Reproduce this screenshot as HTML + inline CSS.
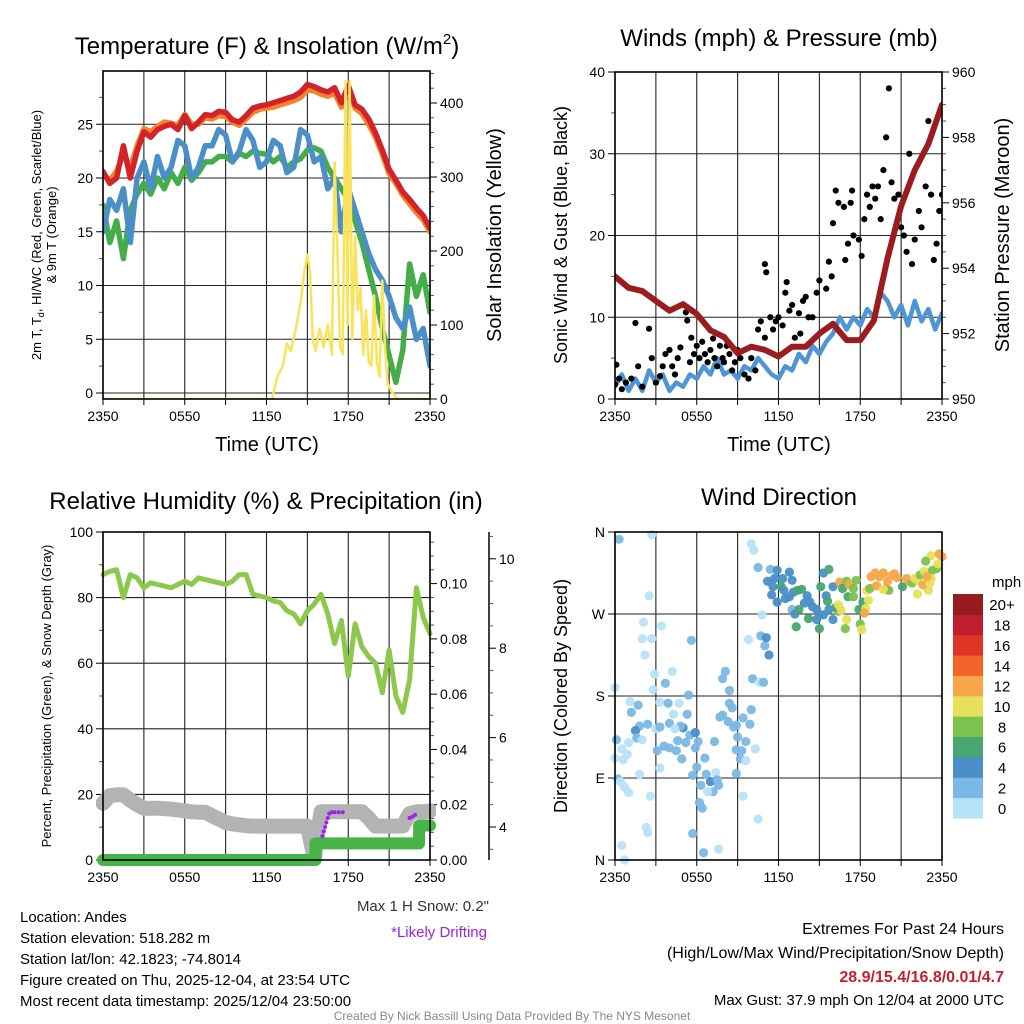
<!DOCTYPE html>
<html><head><meta charset="utf-8">
<style>
html,body{margin:0;padding:0;background:#fff;}
svg{display:block;font-family:"Liberation Sans",Arial,sans-serif;}
.tk{font-size:14px;fill:#000;}
</style></head>
<body>
<svg id="chart" width="1024" height="1024" viewBox="0 0 1024 1024" xmlns="http://www.w3.org/2000/svg">
<defs>
<clipPath id="c1"><rect x="103" y="71" width="327" height="328"/></clipPath>
<clipPath id="c2"><rect x="615" y="72" width="327" height="327"/></clipPath>
<clipPath id="c3"><rect x="96" y="526" width="340" height="340"/></clipPath>
<clipPath id="c4"><rect x="608" y="526" width="341" height="341"/></clipPath>
</defs>
<g id="p1"></g>
<g id="p2"></g>
<g id="p3"></g>
<g id="p4"></g>

<text x="267" y="54" font-size="24" text-anchor="middle">Temperature (F) &amp; Insolation (W/m<tspan font-size="15" dy="-10">2</tspan><tspan dy="10">)</tspan></text>
<text x="779" y="46" font-size="24" text-anchor="middle">Winds (mph) &amp; Pressure (mb)</text>
<text x="266" y="509" font-size="24" text-anchor="middle">Relative Humidity (%) &amp; Precipitation (in)</text>
<text x="779" y="505" font-size="24" text-anchor="middle">Wind Direction</text>

<text x="267" y="458" font-size="20" text-anchor="middle" transform="translate(0,-7)">Time (UTC)</text>
<text x="779" y="458" font-size="20" text-anchor="middle" transform="translate(0,-7)">Time (UTC)</text>

<text transform="translate(41,235) rotate(-90)" font-size="13" text-anchor="middle">2m T, T<tspan font-size="9" dy="3">d</tspan><tspan dy="-3">, HI/WC (Red, Green, Scarlet/Blue)</tspan></text>
<text transform="translate(56,235) rotate(-90)" font-size="13" text-anchor="middle">&amp; 9m T (Orange)</text>
<text transform="translate(501,235) rotate(-90)" font-size="20" text-anchor="middle">Solar Insolation (Yellow)</text>
<text transform="translate(567,235) rotate(-90)" font-size="18" text-anchor="middle">Sonic Wind &amp; Gust (Blue, Black)</text>
<text transform="translate(1009,235) rotate(-90)" font-size="20" text-anchor="middle">Station Pressure (Maroon)</text>
<text transform="translate(51,696) rotate(-90)" font-size="13" text-anchor="middle">Percent, Precipitation (Green), &amp; Snow Depth (Gray)</text>
<text transform="translate(567,696) rotate(-90)" font-size="18" text-anchor="middle">Direction (Colored By Speed)</text>

<text x="489" y="911" font-size="15" text-anchor="end" fill="#333">Max 1 H Snow: 0.2"</text>
<text x="487" y="937" font-size="15" text-anchor="end" fill="#a020f0">*Likely Drifting</text>

<g font-size="15">
<text x="20" y="922">Location: Andes</text>
<text x="20" y="943">Station elevation: 518.282 m</text>
<text x="20" y="964">Station lat/lon: 42.1823; -74.8014</text>
<text x="20" y="985">Figure created on Thu, 2025-12-04, at 23:54 UTC</text>
<text x="20" y="1006">Most recent data timestamp: 2025/12/04 23:50:00</text>
</g>
<g font-size="16" text-anchor="end">
<text x="1004" y="934">Extremes For Past 24 Hours</text>
<text x="1004" y="958">(High/Low/Max Wind/Precipitation/Snow Depth)</text>
<text x="1004" y="982" fill="#c8202b" font-weight="bold">28.9/15.4/16.8/0.01/4.7</text>
<text x="1004" y="1005" font-size="15">Max Gust: 37.9 mph On 12/04 at 2000 UTC</text>
</g>
<text x="512" y="1020" font-size="12" fill="#888" text-anchor="middle">Created By Nick Bassill Using Data Provided By The NYS Mesonet</text>
<text x="992" y="587" font-size="15">mph</text>
<g id="cbar"></g>
</svg>
<script>
// ---------- data ----------
const halfHours = [0,0.5,1,1.5,2,2.5,3,3.5,4,4.5,5,5.5,6,6.5,7,7.5,8,8.5,9,9.5,10,10.5,11,11.5,12,12.5,13,13.5,14,14.5,15,15.5,16,16.5,17,17.5,18,18.5,19,19.5,20,20.5,21,21.5,22,22.5,23,23.5,24];
const timeTicks = [0,6,12,18,24];
const timeTickLabels = ["2350","0550","1150","1750","2350"];
const tempRed = [20.6,19.5,20.0,23.0,20.0,22.5,24.3,23.8,24.5,24.8,25.0,24.5,25.8,24.6,25.2,25.9,25.8,26.2,26.1,25.4,25.2,25.8,26.5,26.7,26.8,27.0,27.2,27.4,27.6,28.0,28.7,28.5,28.2,28.0,28.4,27.0,28.6,26.8,26.4,25.5,24.2,22.6,20.8,19.8,18.7,18.0,17.2,16.5,15.3];
const tempOrange = [20.3,19.8,20.6,22.2,21.0,23.0,24.6,24.3,24.8,25.2,25.1,24.9,25.9,25.0,25.0,25.6,25.5,25.8,25.7,25.2,24.9,25.5,26.1,26.4,26.5,26.6,26.8,27.0,27.2,27.5,28.2,28.1,27.8,27.6,27.9,26.6,28.2,26.5,26.0,25.0,23.8,22.2,20.4,19.5,18.4,17.6,16.8,16.1,15.0];
const dewGreen = [17.5,14,16,12.5,17,18.5,19.5,18.5,20,19,20.5,19.5,21,19.8,20.5,21.5,21.5,22,22,21.5,22.3,22,22.5,22.3,22.2,21.5,22,21,21.5,21.8,22.6,22.8,22.5,21,20,19,18,16,14,11.5,9,6,3.5,1,4,12,9,11,7.5];
const hiwcBlue = [15,18,17,19,14,20,21.5,19,22,20,21,23.5,23,20,21,23,23,24.5,24,21.5,22.5,24.5,23.5,21,21.5,23.5,23,20.5,21,24.5,24,21.5,22,19,20,15,19,17,15,13,11.5,10.5,9,7,6,8,5,6,2.5];
const solarHours = [0,12,12.4,12.8,13.2,13.5,13.8,14.2,14.5,14.8,15.0,15.2,15.4,15.6,15.9,16.2,16.5,16.8,17.0,17.2,17.4,17.6,17.8,17.95,18.1,18.3,18.5,18.7,18.9,19.1,19.3,19.5,19.7,19.9,20.1,20.3,20.5,20.7,20.9,21.2,21.6,22,24];
const solarWm2 = [0,0,0,30,45,75,65,100,130,175,195,170,80,65,95,70,100,60,320,200,70,60,430,100,430,80,220,120,150,60,120,50,45,140,50,30,160,70,20,10,0,0,0];
const windBlue = [1.5,3,1,2.5,1,3.5,2,3,1,2,1.5,3,2.5,4,3,5,3,3.5,2.5,4,3.5,5,4,3,2.5,4,3.5,5.5,4.5,6.5,5.5,7,8,10,8.5,10,9,11,10,13,12,10,11.5,9,12,9.5,11,8.5,10.5];
const pressHours = [0,1,2,3,4,5,6,7,8,9,10,11,12,13,14,15,16,17,18,19,20,21,22,23,24];
const pressMb = [953.75,953.4,953.3,953.0,952.7,952.9,952.6,952.1,951.9,951.4,951.6,951.5,951.3,951.6,951.6,952.0,952.3,951.8,951.8,952.4,954.3,955.9,957.0,957.8,959.0];
const gustHours = [0,0.1,0.3,0.5,0.8,1.2,1.5,1.7,2,2.5,2.7,3,3.3,3.5,3.7,4,4.2,4.4,4.6,4.8,5.2,5.3,5.5,5.6,5.8,6,6.2,6.4,6.6,6.8,7,7.2,7.3,7.5,7.7,7.9,8,8.2,8.4,8.6,8.8,9,9.2,9.5,9.8,10,10.3,10.5,10.7,11,11,11.1,11.4,11.6,11.8,12,12.3,12.5,12.6,12.8,13,13.2,13.5,13.6,13.8,14,14.2,14.5,14.8,15,15.5,15.7,15.9,16,16.2,16.4,16.8,16.9,17.1,17.3,17.4,17.5,17.9,18.1,18.3,18.5,18.7,18.9,19.1,19.3,19.5,19.7,19.9,20.1,20.3,20.5,20.8,21,21.2,21.4,21.6,21.8,22,22.3,22.5,22.8,23,23.2,23.4,23.6,23.8,24];
const gustMph = [1.8,4.2,2.5,1.2,2,2.5,9.3,4,1.5,8.6,5,2,2.8,4,5.5,6,4,3,5,6.3,10.6,9.6,4.5,7.5,5.5,6.5,5,7,5.5,4.5,6,7.4,5,4,6.5,5,4.5,6.5,5.5,3.5,4.5,6,5,3,2.5,5,3.5,8.5,9.5,7.5,16.5,15.5,10,8.5,9.5,10,9,13,14.3,10.8,11.5,7.5,10.5,8,12,12.5,10,10,13,14.5,13.5,16.8,15,21.5,25.5,24,23.5,17,19,24,25.5,20,19.5,17.5,22,25,23.5,26,24.5,26,22,28,32,38,26.5,24.5,25,21,20,18,30,16.5,19.5,23,21,26,34,25,17,19,23,25];
const rhPct = [87,88,88.5,80,87,86,83,84.5,84,83.5,83,84,85,84,86,85.5,85,84.5,84,85,87,87,81,80.5,80,79,78.5,76,75,72,76,78,81,75,66,73,56,72,65,62,60,51,64,50,45,55,83,74,69];
const snowIn = [4.53,4.7,4.72,4.72,4.6,4.5,4.42,4.42,4.42,4.41,4.4,4.38,4.36,4.34,4.33,4.33,4.25,4.18,4.1,4.07,4.05,4.03,4.02,4.02,4.02,4.02,4.02,4.02,4.02,4.02,4.02,3.3,4.34,4.34,4.34,4.34,4.34,4.34,4.34,4.2,4.02,4.02,4.02,4.02,4.02,4.3,4.34,4.34,4.36];
const precipHours = [0,15.6,15.6,23.2,23.2,24];
const precipIn = [0,0,0.006,0.006,0.0125,0.0125];
const driftHours = [16.1,16.2,16.3,16.4,16.5,16.6,16.8,17.0,17.3,17.6,22.5,22.7,22.9];
const driftSnow = [3.8,3.9,4.0,4.1,4.2,4.3,4.33,4.33,4.33,4.33,4.2,4.23,4.27];
const dirHours = [0.3,2.7,2.5,2.1,3.4,2.0,2.7,2.2,5.6,2.9,4.2,3.7,2.8,0,5.4,1.1,1.7,1.2,3.3,3.9,4.7,4.3,5.3,1.8,2.4,1.5,3.0,3.3,4.0,5.0,4.8,4.4,5.5,5.9,0.1,1.6,2.0,1.0,3.6,4.0,4.6,5.2,6.1,7.3,0.5,0,0.6,0.9,3.1,4.5,4.9,5.9,3.3,1.8,6.0,6.6,5.7,6.7,7.4,0.2,0.4,0.7,1.0,2.6,6.3,7.0,7.5,7.6,7.2,6.8,6.2,6.4,2.3,2.4,5.7,0.5,0.7,6.5,7.6,7.9,8.1,8.4,8.4,8.6,7.7,7.9,8.3,8.7,8.9,9.4,9.9,10.0,10.1,10.6,10.9,9.0,9.6,9.3,8.9,9.2,9.6,10.3,8.9,9.4,10.5,9.8,10.8,10.7,11.0,11.1,11.3,10.0,10.2,10.5,11.4,11.9,12.8,11.7,12.3,13.0,11.2,11.6,12.2,12.4,11.5,11.9,12.5,12.8,13.1,13.4,13.7,14.1,14.3,13.9,14.5,14.8,13.0,13.2,13.5,14.2,15.0,15.3,14.8,15.0,13.3,16.0,15.7,16.4,15.3,15.7,15.1,15.5,15.6,16.0,16.2,16.5,16.7,17.0,17.2,17.5,17.7,17.1,17.5,16.4,16.6,17.0,16.9,18.0,18.1,17.9,18.2,18.4,18.3,18.5,18.7,18.6,18.8,19.1,19.4,19.2,19.7,19.9,20.0,20.3,20.5,20.7,20.1,19.7,21.1,21.4,21.6,21.8,22.0,22.2,22.4,22.7,23.0,23.0,22.2,22.6,23.2,22.8,23.3,23.6,23.8,24.0,23.7,23.2,23.1,22.9];
const dirDeg = [352,357,290,261,257,243,243,225,241,204,207,194,187,189,181,174,170,162,173,172,172,160,160,147,149,142,144,146,150,145,147,144,137,140,132,134,132,129,125,123,131,129,130,130,122,112,110,116,120,120,111,123,101,94,102,112,93,94,96,89,86,80,74,70,82,86,88,82,75,75,63,57,36,30,29,16,0,8,12,199,207,186,172,167,157,159,152,146,148,156,149,165,199,195,195,135,130,120,121,111,109,122,95,70,45,242,269,246,235,244,225,347,340,321,319,318,316,309,309,307,306,300,300,296,291,283,287,289,294,296,297,290,283,282,278,275,275,270,275,265,269,269,264,254,256,264,275,273,315,319,300,290,284,300,277,305,298,306,302,298,307,289,289,280,274,264,254,259,253,275,283,276,271,296,298,285,311,315,311,301,315,298,306,312,314,310,296,297,300,309,306,304,309,307,313,317,307,296,292,302,334,328,318,320,336,333,325,309,304,311];
const dirSpeed = [2,0,0,0,0,0,0,0,2,0,0,2,0,0,2,0,2,2,0,2,0,0,2,2,2,4,0,2,2,4,2,0,2,4,2,2,0,0,2,2,2,2,2,2,0,0,0,0,2,2,2,2,0,0,2,2,2,2,0,2,0,0,0,0,2,4,2,2,2,0,2,2,0,0,2,0,0,2,0,2,2,2,2,2,2,2,2,2,2,2,2,2,2,0,2,2,2,2,2,2,0,0,2,0,0,0,0,2,2,4,4,0,0,2,2,4,4,4,4,4,4,4,6,4,4,4,4,4,4,6,6,4,4,4,4,4,2,4,6,6,4,4,4,6,6,4,4,8,4,6,6,4,6,4,6,12,6,8,12,8,8,6,8,10,10,10,8,8,10,6,6,10,12,10,8,10,12,12,12,12,12,14,12,12,12,12,8,10,6,12,12,8,10,10,8,10,10,10,10,12,10,8,8,8,12,12,10,10,10,12];
const speedColors = ["#b8e2f7","#7ab8e5","#4a8fc7","#47a672","#7bc24e","#e6e05a","#f7a648","#f26529","#e03428","#bf1e2d","#961a1e"];
const speedLabels = ["0","2","4","6","8","10","12","14","16","18","20+"];

// ---------- helpers ----------
const NS = "http://www.w3.org/2000/svg";
function mk(parent, tag, attrs){ const e=document.createElementNS(NS,tag); for(const k in attrs) e.setAttribute(k,attrs[k]); parent.appendChild(e); return e; }
const xT = t => 103 + t*13.625;
const xW = t => 615 + t*13.625;
const yTemp = v => 393 - 10.75*v;
const ySol = v => 399 - 0.74*v;
const yWind = v => 399 - 8.175*v;
const yPres = p => 399 - (p-950)*32.7;
const yRH = v => 860 - 3.28*v;
const yPrec = v => 860 - 2764*v;
const ySnow = s => 827 - (s-4)*44.7;
const yDir = d => 860 - d*328/360;

function pathD(xs, ys, fx, fy){ return xs.map((x,i)=>(i?"L":"M")+fx(x).toFixed(1)+","+fy(ys[i]).toFixed(1)).join(""); }

function frame(g, x0, x1, y0, y1, xf, hLines){
  for(let t=0;t<=24;t+=3){
    const gl = mk(g,"line",{x1:xf(t),x2:xf(t),y1:y0,y2:y1,stroke:"#222","stroke-width":1.1});
    
    
    const tk = mk(g,"line",{x1:xf(t),x2:xf(t),y1:y1,y2:y1+6,stroke:"#000","stroke-width":1});
    
    
  }
  hLines.forEach(y=>{
    const hl = mk(g,"line",{x1:x0,x2:x1,y1:y,y2:y,stroke:"#222","stroke-width":1.1});
    
    
  });
  timeTicks.forEach((t,i)=>{
    const tx = mk(g,"text",{x:xf(t),y:y1+22,"text-anchor":"middle","class":"tk"});
    tx.textContent = timeTickLabels[i];
    
    
  });
}
function border(g,x0,x1,y0,y1){
  const b = mk(g,"rect",{x:x0,y:y0,width:x1-x0,height:y1-y0,fill:"none",stroke:"#000","stroke-width":1.6});
  
  
}
function yAxis(g, vals, labels, fy, x, side, minorVals){
  vals.forEach((v,i)=>{
    const y=fy(v);
    const tk = mk(g,"line",{x1:x,x2:x+(side<0?-7:7),y1:y,y2:y,stroke:"#000","stroke-width":1});
    
    
    const tx = mk(g,"text",{x:x+(side<0?-10:10),y:y+5,"text-anchor":side<0?"end":"start","class":"tk"});
    tx.textContent = labels[i];
    
    
  });
  (minorVals||[]).forEach(v=>{
    const y=fy(v);
    const mt = mk(g,"line",{x1:x,x2:x+(side<0?-4:4),y1:y,y2:y,stroke:"#555","stroke-width":1});
    
    
  });
}
function line(g, xs, ys, fx, fy, color, w, name, clip){
  const p = mk(g,"path",{d:pathD(xs,ys,fx,fy),fill:"none",stroke:color,"stroke-width":w,"stroke-linejoin":"round","stroke-linecap":"round","clip-path":"url(#"+clip+")"});
  
  
  return p;
}

// ---------- panel 1 ----------
const g1=document.getElementById("p1");
frame(g1,103,430,71,399,xT,[0,5,10,15,20,25].map(yTemp));
yAxis(g1,[0,5,10,15,20,25],["0","5","10","15","20","25"],yTemp,103,-1,[2.5,7.5,12.5,17.5,22.5,27.5]);
yAxis(g1,[0,100,200,300,400],["0","100","200","300","400"],ySol,430,1,[20,40,60,80,120,140,160,180,220,240,260,280,320,340,360,380,420,440]);
line(g1,halfHours,dewGreen,xT,yTemp,"#44ad48",5.5,"dewpoint-line","c1");
line(g1,halfHours,hiwcBlue,xT,yTemp,"#4b8fc9",5.5,"heat-index-windchill-line","c1");
line(g1,halfHours,tempOrange,xT,yTemp,"#f5822a",5.5,"temp-9m-line","c1");
line(g1,halfHours,tempRed,xT,yTemp,"#d2232a",5.5,"temp-2m-line","c1");
line(g1,solarHours,solarWm2,xT,ySol,"#f8e35a",2.5,"solar-insolation-line","c1");
border(g1,103,430,71,399);

// ---------- panel 2 ----------
const g2=document.getElementById("p2");
frame(g2,615,942,72,399,xW,[10,20,30].map(yWind));
yAxis(g2,[0,10,20,30,40],["0","10","20","30","40"],yWind,615,-1,[5,15,25,35]);
yAxis(g2,[950,952,954,956,958,960],["950","952","954","956","958","960"],yPres,942,1,[950.5,951,951.5,952.5,953,953.5,954.5,955,955.5,956.5,957,957.5,958.5,959,959.5]);
line(g2,halfHours,windBlue,xW,yWind,"#4d95d4",4.5,"sonic-wind-line","c2");
gustHours.forEach((t,i)=>{
  const c = mk(g2,"circle",{cx:xW(t),cy:yWind(gustMph[i]),r:3.1,fill:"#000","clip-path":"url(#c2)"});
  
  
});
line(g2,pressHours,pressMb,xW,yPres,"#9b1b1f",6,"pressure-line","c2");
border(g2,615,942,72,399);

// ---------- panel 3 ----------
const g3=document.getElementById("p3");
frame(g3,103,430,532,860,xT,[20,40,60,80].map(yRH));
yAxis(g3,[0,20,40,60,80,100],["0","20","40","60","80","100"],yRH,103,-1,[10,30,50,70,90]);
yAxis(g3,[0,0.02,0.04,0.06,0.08,0.10],["0.00","0.02","0.04","0.06","0.08","0.10"],yPrec,430,1,[0.005,0.01,0.015,0.025,0.03,0.035,0.045,0.05,0.055,0.065,0.07,0.075,0.085,0.09,0.095,0.105,0.11,0.115]);
const sa = mk(g3,"line",{x1:489,x2:489,y1:532,y2:860,stroke:"#000","stroke-width":1.5});


yAxis(g3,[4,6,8,10],["4","6","8","10"],ySnow,489,1,[3.5,4.5,5,5.5,6.5,7,7.5,8.5,9,9.5,10.5]);
line(g3,halfHours,rhPct,xT,yRH,"#8cc84b",5,"relative-humidity-line","c3");
line(g3,halfHours,snowIn,xT,ySnow,"#b3b3b3",15,"snow-depth-line","c3");
line(g3,precipHours,precipIn,xT,yPrec,"#47b448",12,"precipitation-line","c3");
driftHours.forEach((t,i)=>{
  const c = mk(g3,"circle",{cx:xT(t),cy:ySnow(driftSnow[i]),r:2,fill:"#a020f0"});
  
  
});
border(g3,103,430,532,860);

// ---------- panel 4 ----------
const g4=document.getElementById("p4");
frame(g4,615,942,532,860,xW,[90,180,270].map(yDir));
yAxis(g4,[0,90,180,270,360],["N","E","S","W","N"],yDir,615,-1,[]);
dirHours.forEach((t,i)=>{
  const idx = Math.min(10, Math.round(dirSpeed[i]/2));
  const c = mk(g4,"circle",{cx:xW(t),cy:yDir(dirDeg[i]),r:4.6,fill:speedColors[idx],"fill-opacity":0.95,"clip-path":"url(#c4)"});
  
  
});
border(g4,615,942,532,860);

// ---------- colorbar ----------
const cb=document.getElementById("cbar");
const boxH = 224/11;
speedColors.forEach((col,i)=>{
  const y = 818 - (i+1)*boxH;
  const r = mk(cb,"rect",{x:953,y:y,width:30,height:boxH+0.5,fill:col});
  
  
  const tx = mk(cb,"text",{x:1002,y:y+boxH/2+6,"text-anchor":"middle","font-size":"15"});
  tx.textContent = speedLabels[i];
  
  
});
</script>
</body></html>
